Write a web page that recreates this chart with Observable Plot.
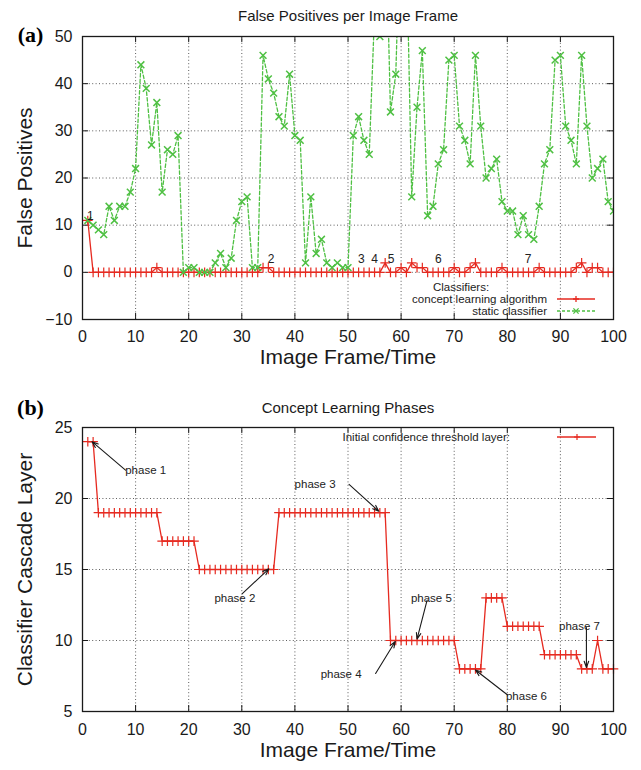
<!DOCTYPE html>
<html>
<head>
<meta charset="utf-8">
<script src="https://cdn.jsdelivr.net/npm/d3@7"></script>
<script src="https://cdn.jsdelivr.net/npm/@observablehq/plot@0.6"></script>
<style>
  body { margin: 0; background: #fff; }
  svg { display: block; }
</style>
</head>
<body>
<div id="chart"></div>
<script>
// ---------- data ----------
const frames = d3.range(1, 101);
const conceptFP = [11,0,0,0,0,0,0,0,0,0, 0,0,0,1,0,0,0,0,0,0, 0,0,0,0,0,0,0,0,0,0, 0,0,0,1,1,0,0,0,0,0,
  0,0,0,0,0,0,0,0,0,0, 0,0,0,0,0,0,2,0,0,1, 0,2,1,1,0,0,0,0,0,1, 0,0,1,2,0,0,0,0,1,0,
  0,0,0,0,0,1,0,0,0,0, 0,0,1,2,0,1,1,0,0,0];
const staticFP = [11,10,9,8,14,11,14,14,17,22, 44,39,27,36,17,26,25,29,0,1, 1,0,0,0,2,4,1,3,11,15,
  16,1,1,46,41,38,33,31,42,29, 28,2,16,4,7,2,1,2,1,1, 29,33,28,25,55,50,80,34,42,80,
  70,16,35,47,12,14,23,26,45,46, 31,28,23,46,31,20,22,24,15,13, 13,8,12,8,7,14,23,26,45,46,
  31,28,23,46,31,20,22,24,15,13];
const cascadeLayer = [24,24,19,19,19,19,19,19,19,19, 19,19,19,19,17,17,17,17,17,17, 17,15,15,15,15,15,15,15,15,15,
  15,15,15,15,15,15,19,19,19,19, 19,19,19,19,19,19,19,19,19,19, 19,19,19,19,19,19,19,10,10,10,
  10,10,10,10,10,10,10,10,10,10, 8,8,8,8,8,13,13,13,13,11, 11,11,11,11,11,11,9,9,9,9,
  9,9,9,8,8,8,10,8,8,8];

const xTicks = [0,10,20,30,40,50,60,70,80,90,100];
const yTicksTop = [-10,0,10,20,30,40,50];
const yTicksBottom = [5,10,15,20,25];

const topTitle = "False Positives per Image Frame";
const bottomTitle = "Concept Learning Phases";
const xTitle = "Image Frame/Time";
const yTitleTop = "False Positives";
const yTitleBottom = "Classifier Cascade Layer";
const panelLabels = ["(a)", "(b)"];
const legendTitleTop = "Classifiers:";
const seriesNames = ["concept learning algorithm", "static classifier"];
const legendBottom = "Initial confidence threshold layer:";

// numbered event markers in panel (a)
const eventLabels = ["1","2","3","4","5","6","7"];
const eventX = [1.5, 35.5, 52.5, 55, 58.1, 67, 83.9];
const eventY = [11.9, 2.7, 2.7, 2.7, 2.7, 2.7, 2.7];

// phase annotations in panel (b)
const phaseNames = ["phase 1","phase 2","phase 3","phase 4","phase 5","phase 6","phase 7"];
const phaseTextX = [11.9, 28.7, 43.8, 48.7, 65.7, 83.6, 93.6];
const phaseTextY = [21.95, 13.0, 21.0, 7.65, 12.98, 6.04, 11.0];
const arrowFromX = [8.1, 30.1, 50.2, 55.2, 64.9, 80.0, 94.9];
const arrowFromY = [22.0, 13.3, 21.0, 7.68, 12.85, 6.18, 10.92];
const arrowToX = [1.8, 35.1, 55.8, 58.9, 63.0, 74.0, 94.9];
const arrowToY = [24.0, 15.05, 19.1, 9.93, 10.1, 7.92, 8.1];

// ---------- style ----------
const FONT = '"Liberation Sans", Arial, Helvetica, sans-serif';
const SERIF = '"Liberation Serif", "Times New Roman", serif';
const RED = "#e62a20";
const GREEN = "#4fc043";
const INK = "#1a1a1a";
const W = 641, mL = 82, mR = 28;
const H1 = 372, mT1 = 36, mB1 = 53;
const H2 = 398, mT2 = 55, mB2 = 59;
const pw = W - mL - mR;
const ph1 = H1 - mT1 - mB1;
const ph2 = H2 - mT2 - mB2;
const tickLen = 6;

const topData = frames.map((f, i) => ({frame: f, concept: conceptFP[i], stat: staticFP[i]}));
const bottomData = frames.map((f, i) => ({frame: f, layer: cascadeLayer[i]}));
const events = eventLabels.map((t, i) => ({t, x: eventX[i], y: eventY[i]}));
const phases = phaseNames.map((t, i) => ({t, tx: phaseTextX[i], ty: phaseTextY[i],
  x1: arrowFromX[i], y1: arrowFromY[i], x2: arrowToX[i], y2: arrowToY[i]}));

const gridStyle = {stroke: "#333", strokeOpacity: 1, strokeWidth: 0.8, strokeDasharray: "1,2.4"};
const centered = {textAnchor: "middle", lineAnchor: "middle"};

function frameTicks(yTicks, ph) {
  return [
    Plot.tickX(xTicks, {x: d => d, insetTop: ph - tickLen, stroke: INK}),
    Plot.tickX(xTicks, {x: d => d, insetBottom: ph - tickLen, stroke: INK}),
    Plot.tickY(yTicks, {y: d => d, insetRight: pw - tickLen, stroke: INK}),
    Plot.tickY(yTicks, {y: d => d, insetLeft: pw - tickLen, stroke: INK})
  ];
}

function symbolPath(g, kind, cx, cy, s, color, sw) {
  const d = kind === "plus"
    ? `M${cx - s},${cy}H${cx + s}M${cx},${cy - s}V${cy + s}`
    : `M${cx - s},${cy - s}L${cx + s},${cy + s}M${cx - s},${cy + s}L${cx + s},${cy - s}`;
  g.append("path").attr("d", d).attr("stroke", color).attr("stroke-width", sw).attr("fill", "none");
}

// legend for panel (a), positioned relative to the frame's bottom-right corner
const legendA = () => {
  const rx = W - mR, by = H1 - mB1;
  const g = d3.create("svg:g").attr("font-family", FONT).attr("font-size", 11.5).attr("fill", "#222");
  g.append("text").attr("x", rx - 152).attr("y", by - 32).attr("dy", "0.35em")
    .attr("text-anchor", "middle").text(legendTitleTop);
  const rows = [
    {name: seriesNames[0], color: RED, dash: null, sym: "plus", dy: -20},
    {name: seriesNames[1], color: GREEN, dash: "3,2", sym: "times", dy: -8}
  ];
  for (const r of rows) {
    g.append("text").attr("x", rx - 66).attr("y", by + r.dy).attr("dy", "0.35em")
      .attr("text-anchor", "end").text(r.name);
    const ln = g.append("line").attr("x1", rx - 56).attr("x2", rx - 18)
      .attr("y1", by + r.dy).attr("y2", by + r.dy)
      .attr("stroke", r.color).attr("stroke-width", 1.3);
    if (r.dash) ln.attr("stroke-dasharray", r.dash);
    symbolPath(g, r.sym, rx - 37, by + r.dy, r.sym === "plus" ? 3 : 2.6, r.color, 1.3);
  }
  return g.node();
};

// legend for panel (b), relative to the frame's top-right corner
const legendB = () => {
  const rx = W - mR, ty = mT2;
  const g = d3.create("svg:g").attr("font-family", FONT).attr("font-size", 11.5).attr("fill", "#222");
  g.append("text").attr("x", rx - 103).attr("y", ty + 10).attr("dy", "0.35em")
    .attr("text-anchor", "end").text(legendBottom);
  g.append("line").attr("x1", rx - 56).attr("x2", rx - 17)
    .attr("y1", ty + 10).attr("y2", ty + 10).attr("stroke", RED).attr("stroke-width", 1.3);
  symbolPath(g, "plus", rx - 36, ty + 10, 3, RED, 1.2);
  return g.node();
};

const chartA = Plot.plot({
  width: W, height: H1,
  marginLeft: mL, marginRight: mR, marginTop: mT1, marginBottom: mB1,
  style: {fontFamily: FONT, color: INK, background: "white", overflow: "visible"},
  x: {domain: [0, 100]},
  y: {domain: [-10, 50]},
  marks: [
    Plot.gridX(xTicks.slice(1, -1), gridStyle),
    Plot.gridY(yTicksTop.slice(1, -1), gridStyle),
    ...frameTicks(yTicksTop, ph1),
    Plot.line(topData, {x: "frame", y: "concept", stroke: RED, strokeWidth: 1.3, clip: true}),
    Plot.dot(topData, {x: "frame", y: "concept", symbol: "plus", r: 3.2, stroke: RED, strokeWidth: 1.2, clip: true}),
    Plot.line(topData, {x: "frame", y: "stat", stroke: GREEN, strokeWidth: 1.3, strokeDasharray: "3.5,2.2", clip: true}),
    Plot.dot(topData, {x: "frame", y: "stat", symbol: "times", r: 3.2, stroke: GREEN, strokeWidth: 1.5, clip: true}),
    Plot.frame({stroke: INK, strokeWidth: 1.3}),
    Plot.axisX(xTicks, {tickSize: 0, tickPadding: 11, fontSize: 16, label: null, fill: INK}),
    Plot.axisY(yTicksTop, {tickSize: 0, tickPadding: 10, fontSize: 16, label: null, fill: INK}),
    Plot.text(events, {x: "x", y: "y", text: "t", fontSize: 12, fill: "#222", fontFamily: FONT}),
    legendA,
    Plot.text([topTitle], {text: d => d, frameAnchor: "top", dy: -20, fontSize: 15, fill: INK, fontFamily: FONT, ...centered}),
    Plot.text([xTitle], {text: d => d, frameAnchor: "bottom", dy: 38, fontSize: 21, fill: INK, fontFamily: FONT, ...centered}),
    Plot.text([yTitleTop], {text: d => d, frameAnchor: "left", dx: -57, rotate: -90, fontSize: 21, fill: INK, fontFamily: FONT, ...centered}),
    Plot.text([panelLabels[0]], {text: d => d, frameAnchor: "top-left", dx: -52, dy: -2, fontSize: 22, fontWeight: "bold", fill: "#000", fontFamily: SERIF, ...centered})
  ]
});

const chartB = Plot.plot({
  width: W, height: H2,
  marginLeft: mL, marginRight: mR, marginTop: mT2, marginBottom: mB2,
  style: {fontFamily: FONT, color: INK, background: "white", overflow: "visible"},
  x: {domain: [0, 100]},
  y: {domain: [5, 25]},
  marks: [
    Plot.gridX(xTicks.slice(1, -1), gridStyle),
    Plot.gridY(yTicksBottom.slice(1, -1), gridStyle),
    ...frameTicks(yTicksBottom, ph2),
    Plot.line(bottomData, {x: "frame", y: "layer", stroke: RED, strokeWidth: 1.3}),
    Plot.dot(bottomData, {x: "frame", y: "layer", symbol: "plus", r: 3.2, stroke: RED, strokeWidth: 1.2}),
    Plot.arrow(phases, {x1: "x1", y1: "y1", x2: "x2", y2: "y2", stroke: INK, strokeWidth: 1.1, headLength: 9, headAngle: 40}),
    Plot.text(phases, {x: "tx", y: "ty", text: "t", fontSize: 11.5, fill: "#222", fontFamily: FONT}),
    Plot.frame({stroke: INK, strokeWidth: 1.3}),
    Plot.axisX(xTicks, {tickSize: 0, tickPadding: 12, fontSize: 16, label: null, fill: INK}),
    Plot.axisY(yTicksBottom, {tickSize: 0, tickPadding: 10, fontSize: 16, label: null, fill: INK}),
    legendB,
    Plot.text([bottomTitle], {text: d => d, frameAnchor: "top", dy: -19, fontSize: 15, fill: INK, fontFamily: FONT, ...centered}),
    Plot.text([xTitle], {text: d => d, frameAnchor: "bottom", dy: 39, fontSize: 21, fill: INK, fontFamily: FONT, ...centered}),
    Plot.text([yTitleBottom], {text: d => d, frameAnchor: "left", dx: -57, rotate: -90, fontSize: 21, fill: INK, fontFamily: FONT, ...centered}),
    Plot.text([panelLabels[1]], {text: d => d, frameAnchor: "top-left", dx: -52, dy: -20, fontSize: 22, fontWeight: "bold", fill: "#000", fontFamily: SERIF, ...centered})
  ]
});

const root = document.getElementById("chart");
root.appendChild(chartA);
root.appendChild(chartB);
</script>
</body>
</html>
